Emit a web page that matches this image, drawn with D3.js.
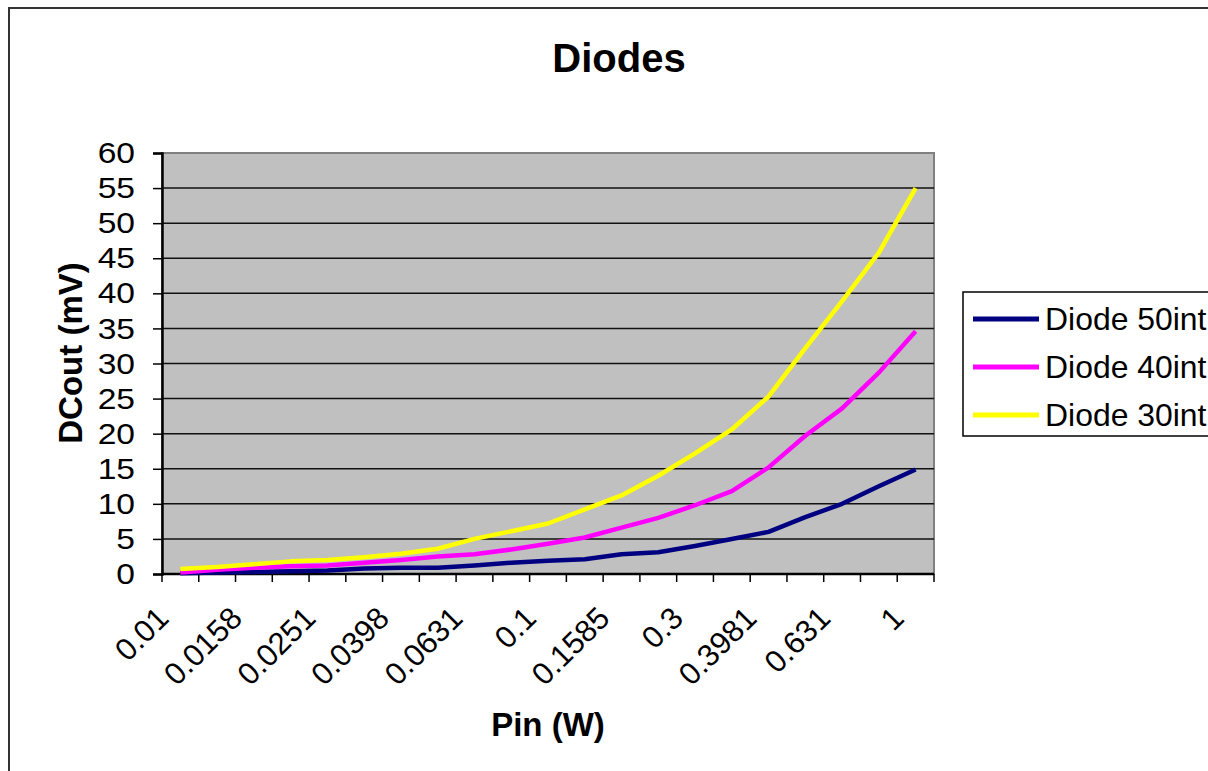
<!DOCTYPE html>
<html>
<head>
<meta charset="utf-8">
<script src="https://cdn.jsdelivr.net/npm/d3@7"></script>
<style>
  body { margin: 0; background: #fff; }
  svg { display: block; font-family: "Liberation Sans", Arial, sans-serif; }
</style>
</head>
<body>
<svg width="1208" height="771"></svg>
<script>
// Pin (W) categories, only every second one gets a label
const categories = [
  "0.01", "0.0126", "0.0158", "0.02", "0.0251", "0.0316", "0.0398", "0.0501",
  "0.0631", "0.0794", "0.1", "0.1259", "0.1585", "0.2", "0.3", "0.35",
  "0.3981", "0.5012", "0.631", "0.7943", "1"
];
const diode50 = [0.1, 0.2, 0.3, 0.4, 0.5, 0.8, 0.9, 0.9, 1.2, 1.6, 1.9, 2.1, 2.8, 3.1, 4.0, 5.0, 6.0, 8.1, 10.0, 12.5, 14.9];
const diode40 = [0.2, 0.6, 0.9, 1.1, 1.2, 1.6, 2.0, 2.5, 2.8, 3.5, 4.3, 5.2, 6.6, 8.0, 9.8, 11.8, 15.2, 19.7, 23.6, 28.7, 34.6];
const diode30 = [0.7, 1.0, 1.4, 1.8, 2.0, 2.4, 2.9, 3.6, 5.0, 6.1, 7.2, 9.2, 11.2, 14.0, 17.2, 20.6, 25.3, 32.2, 38.9, 45.8, 55.0];
const yTicks = [0, 5, 10, 15, 20, 25, 30, 35, 40, 45, 50, 55, 60];

const series = [
  { name: "Diode 50int", values: diode50, color: "#000080" },
  { name: "Diode 40int", values: diode40, color: "#FF00FF" },
  { name: "Diode 30int", values: diode30, color: "#FFFF00" },
];

const svg = d3.select("svg");

// plot area
const plotLeft = 162, plotRight = 934, plotTop = 153, plotBottom = 574;

const x = d3.scaleBand().domain(categories).range([plotLeft, plotRight]).padding(0);
const y = d3.scaleLinear().domain([0, 60]).range([plotBottom, plotTop]);

// the source picture is a bit wider than tall, so text gets a small horizontal stretch
const stretch = 1.12;

// outer chart border (right/bottom fall outside the view)
svg.append("rect")
  .attr("x", 9).attr("y", 8)
  .attr("width", 1300).attr("height", 900)
  .attr("fill", "#fff")
  .attr("stroke", "#333")
  .attr("stroke-width", 2);

svg.append("rect")
  .attr("x", plotLeft).attr("y", plotTop)
  .attr("width", plotRight - plotLeft).attr("height", plotBottom - plotTop)
  .attr("fill", "#C0C0C0")
  .attr("stroke", "#808080")
  .attr("stroke-width", 2);

// horizontal gridlines
svg.append("g")
  .selectAll("line")
  .data(yTicks.filter((d) => d > 0 && d < 60))
  .enter()
  .append("line")
  .attr("x1", plotLeft).attr("x2", plotRight)
  .attr("y1", (d) => y(d)).attr("y2", (d) => y(d))
  .attr("stroke", "#111")
  .attr("stroke-width", 1.5);

// y axis
const yAxis = svg.append("g")
  .attr("transform", `translate(${plotLeft},0)`)
  .call(d3.axisLeft(y).tickValues(yTicks).tickSize(9).tickPadding(16));
yAxis.select(".domain").attr("stroke", "#000").attr("stroke-width", 2.5);
yAxis.selectAll(".tick line").attr("stroke", "#000").attr("stroke-width", 1.5);
yAxis.selectAll(".tick text")
  .attr("x", -27 / stretch)
  .attr("transform", `scale(${stretch},1)`)
  .attr("font-size", 30)
  .attr("font-family", "Liberation Sans, Arial, sans-serif")
  .attr("fill", "#000");

// x axis: ticks at category boundaries
const xAxis = svg.append("g");
xAxis.append("line")
  .attr("x1", plotLeft).attr("x2", plotRight)
  .attr("y1", plotBottom).attr("y2", plotBottom)
  .attr("stroke", "#000").attr("stroke-width", 2.5);
xAxis.selectAll("line.tick")
  .data(d3.range(categories.length + 1))
  .enter()
  .append("line")
  .attr("class", "tick")
  .attr("x1", (i) => plotLeft + i * x.bandwidth())
  .attr("x2", (i) => plotLeft + i * x.bandwidth())
  .attr("y1", plotBottom).attr("y2", plotBottom + 8)
  .attr("stroke", "#000").attr("stroke-width", 1.5);

xAxis.selectAll("text")
  .data(categories.filter((d, i) => i % 2 === 0))
  .enter()
  .append("text")
  .attr("transform", (d) => `translate(${x(d) + x.bandwidth() / 2 - 10},620) rotate(-45)`)
  .attr("text-anchor", "end")
  .attr("font-size", 31)
  .text((d) => d);

// lines
const line = d3.line()
  .x((d, i) => x(categories[i]) + x.bandwidth() / 2)
  .y((d) => y(d));

svg.append("g")
  .selectAll("path")
  .data(series)
  .enter()
  .append("path")
  .attr("d", (d) => line(d.values))
  .attr("fill", "none")
  .attr("stroke", (d) => d.color)
  .attr("stroke-width", 4.5)
  .attr("stroke-linejoin", "round");

// titles
svg.append("text")
  .attr("x", 619).attr("y", 72)
  .attr("text-anchor", "middle")
  .attr("font-size", 40)
  .attr("font-weight", "bold")
  .text("Diodes");

svg.append("text")
  .attr("x", 548).attr("y", 736)
  .attr("text-anchor", "middle")
  .attr("font-size", 33)
  .attr("font-weight", "bold")
  .text("Pin (W)");

svg.append("text")
  .attr("transform", "translate(82,353) rotate(-90)")
  .attr("text-anchor", "middle")
  .attr("font-size", 33)
  .attr("font-weight", "bold")
  .text("DCout (mV)");

// legend
const legend = svg.append("g").attr("transform", "translate(963,292)");
legend.append("rect")
  .attr("width", 300).attr("height", 144)
  .attr("fill", "#fff")
  .attr("stroke", "#000")
  .attr("stroke-width", 1.5);

const items = legend.selectAll("g.item")
  .data(series)
  .enter()
  .append("g")
  .attr("class", "item")
  .attr("transform", (d, i) => `translate(0,${27 + i * 48})`);
items.append("line")
  .attr("x1", 10).attr("x2", 76)
  .attr("stroke", (d) => d.color)
  .attr("stroke-width", 5);
items.append("text")
  .attr("x", 82 / 1.03)
  .attr("transform", "scale(1.03,1)")
  .attr("dy", "0.36em")
  .attr("font-size", 31)
  .text((d) => d.name);
</script>
</body>
</html>
